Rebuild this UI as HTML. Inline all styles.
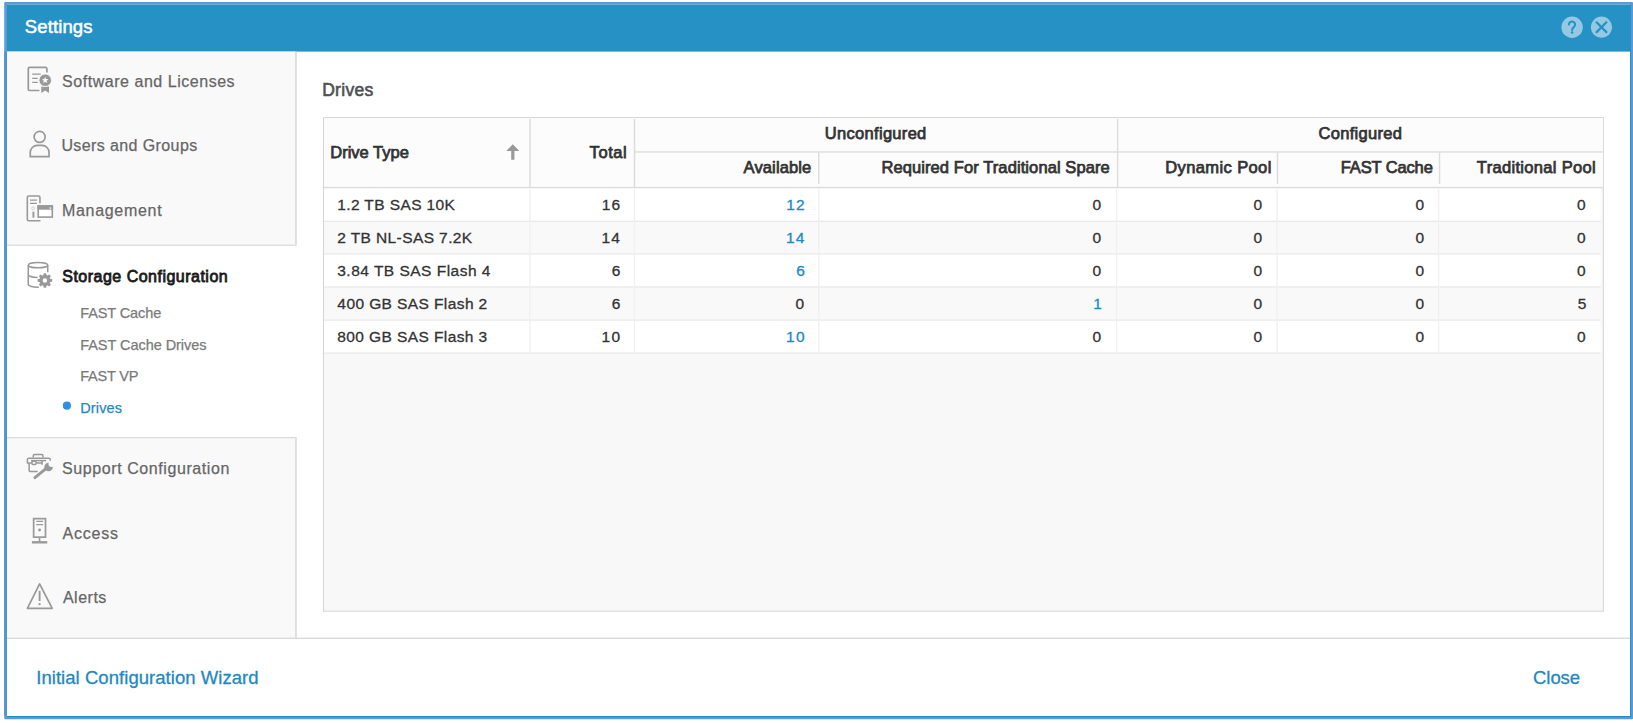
<!DOCTYPE html>
<html lang="en">
<head>
<meta charset="utf-8">
<title>Settings</title>
<style>
html,body{margin:0;padding:0;background:#fff;}
body{width:1633px;height:723px;position:relative;overflow:hidden;font-family:"Liberation Sans",sans-serif;color:#333;}
.t{position:absolute;white-space:nowrap;line-height:20px;}
.ic{position:absolute;left:0;top:0;}
</style>
</head>
<body>
<svg class="ic" width="1633" height="723" viewBox="0 0 1633 723" fill="none" stroke="#999" stroke-width="1.6">
<g stroke="none">
<!-- window frame -->
<rect x="4.2" y="2" width="1629" height="717.2" rx="1.2" fill="#5b9bd5"/>
<rect x="4.2" y="51.6" width="2.8" height="664" fill="#5294d3"/>
<rect x="7" y="4.6" width="1623.2" height="711.4" fill="#fff"/>
<rect x="1630" y="4.6" width="1.1" height="712.5" fill="#2f8fc9"/>
<rect x="7" y="716" width="1624" height="1.1" fill="#268bc5"/>
<!-- title bar -->
<rect x="7" y="4.6" width="1623.2" height="47" fill="#2591c5"/>
<!-- sidebar -->
<rect x="7" y="51.6" width="288.2" height="586.2" fill="#f9f9f9"/>
<rect x="295.1" y="51.6" width="1.7" height="586.2" fill="#dbdbdb"/>
<rect x="7" y="244.5" width="290" height="193.8" fill="#fff"/>
<rect x="7" y="244.5" width="289.8" height="1.3" fill="#dbdbdb"/>
<rect x="7" y="437" width="289.8" height="1.3" fill="#dbdbdb"/>
<!-- footer line -->
<rect x="7" y="637.7" width="1623.2" height="1.1" fill="#d2d2d2"/>
<!-- grid -->
<rect x="323" y="117.1" width="1280.8" height="494.6" fill="#d4d4d4"/>
<rect x="324" y="118.1" width="1278.8" height="492.6" fill="#f8f8f8"/>
<rect x="324" y="118.1" width="1278.8" height="69" fill="#fcfcfc"/>
<!-- rows -->
<rect x="324" y="188.2" width="1276.6" height="32.6" fill="#fff"/>
<rect x="324" y="221.8" width="1276.6" height="31.7" fill="#f9f9f9"/>
<rect x="324" y="254.5" width="1276.6" height="32" fill="#fff"/>
<rect x="324" y="287.5" width="1276.6" height="32.1" fill="#f9f9f9"/>
<rect x="324" y="320.6" width="1276.6" height="32" fill="#fff"/>
<g fill="#e5e5e5">
<rect x="324" y="220.8" width="1276.6" height="1"/>
<rect x="324" y="253.5" width="1276.6" height="1"/>
<rect x="324" y="286.5" width="1276.6" height="1"/>
<rect x="324" y="319.6" width="1276.6" height="1"/>
<rect x="324" y="352.6" width="1276.6" height="1"/>
</g>
<g fill="#f0f0f0">
<rect x="529.2" y="189" width="1.4" height="164"/>
<rect x="633.7" y="189" width="1.4" height="164"/>
<rect x="818" y="189" width="1.4" height="164"/>
<rect x="1115.9" y="189" width="1.4" height="164"/>
<rect x="1276.4" y="189" width="1.4" height="164"/>
<rect x="1437.9" y="189" width="1.4" height="164"/>
</g>
<!-- header lines -->
<rect x="324" y="186.9" width="1278.8" height="1.3" fill="#dadada"/>
<rect x="634.4" y="151" width="968.4" height="1.9" fill="#e5e5e5"/>
<g fill="#dcdcdc">
<rect x="529.25" y="119" width="1.5" height="68"/>
<rect x="633.75" y="119" width="1.5" height="68"/>
<rect x="1116.9" y="119" width="1.4" height="68"/>
<rect x="818.05" y="152.6" width="1.4" height="31.4"/>
<rect x="1276.8" y="152.6" width="1.4" height="31.4"/>
<rect x="1438.85" y="152.6" width="1.4" height="31.4"/>
</g>
<!-- selected bullet -->
<circle cx="66.9" cy="405.7" r="4.1" fill="#2e8fe4"/>
</g>

<!-- software and licenses -->
<path d="M46.9,72.6 V68.7 a1.3,1.3 0 0 0 -1.3,-1.3 H29.6 a1.3,1.3 0 0 0 -1.3,1.3 V89.2 a1.3,1.3 0 0 0 1.3,1.3 H39.4" stroke-width="1.7"/>
<path d="M32.2,74.1 H40.7 M32.2,78.3 H37.7 M32.2,82.4 H37.7" stroke-width="1.3"/>
<path d="M41.3,86.5 H49 V92.9 L45.15,90.4 L41.3,92.9Z" fill="#999" stroke="none"/>
<circle cx="45.2" cy="80.2" r="6.3" fill="#999" stroke="#f9f9f9" stroke-width="1"/>
<path d="M45.20,77.00 L46.08,79.09 L48.34,79.28 L46.63,80.76 L47.14,82.97 L45.20,81.80 L43.26,82.97 L43.77,80.76 L42.06,79.28 L44.32,79.09Z" fill="#fff" stroke="none"/>
<!-- users and groups -->
<circle cx="39.64" cy="136.9" r="5.5" stroke-width="1.7"/>
<path d="M30.25,156.55 V152.45 a7,7 0 0 1 7,-7 H42.05 a7,7 0 0 1 7,7 V156.55Z" stroke-width="1.7"/>
<!-- management -->
<path d="M39.95,203.3 V197.55 a1.5,1.5 0 0 0 -1.5,-1.5 H28.8 a1.5,1.5 0 0 0 -1.5,1.5 V219.2 a1.5,1.5 0 0 0 1.5,1.5 H40.5"/>
<path d="M30,200.1 H36.9 M30,203.3 H36.9" stroke-width="1.3"/>
<circle cx="33.1" cy="208.4" r="1.4" stroke="#d0d0d0" stroke-width="1"/>
<path d="M33.4,211.6 V217.7" stroke-width="1.9"/>
<rect x="36.7" y="204.5" width="17.1" height="14.1" fill="#f9f9f9" stroke="none"/>
<rect x="38.2" y="206" width="14.1" height="11.1" fill="#fff"/>
<rect x="37.4" y="205.2" width="15.7" height="4.5" fill="#999" stroke="none"/>
<rect x="49.5" y="207.3" width="1.6" height="1.6" fill="#eee" stroke="none"/>
<!-- storage configuration -->
<g stroke-width="1.5">
<ellipse cx="38" cy="265.2" rx="9.75" ry="2.6"/>
<path d="M28.25,265.2 V284.2 A9.75,3 0 0 0 38.8,287.2"/>
<path d="M28.25,274.4 A9.75,3 0 0 0 37.6,277.4"/>
<path d="M47.75,265.2 V272.2"/>
</g>
<path d="M43.27,275.20 L43.72,273.14 L46.08,273.14 L46.53,275.20 L47.47,275.59 L49.23,274.45 L50.90,276.12 L49.76,277.88 L50.15,278.82 L52.21,279.27 L52.21,281.63 L50.15,282.08 L49.76,283.02 L50.90,284.78 L49.23,286.45 L47.47,285.31 L46.53,285.70 L46.08,287.76 L43.72,287.76 L43.27,285.70 L42.33,285.31 L40.57,286.45 L38.90,284.78 L40.04,283.02 L39.65,282.08 L37.59,281.63 L37.59,279.27 L39.65,278.82 L40.04,277.88 L38.90,276.12 L40.57,274.45 L42.33,275.59Z M42.70,280.45 a2.2,2.2 0 1,0 4.4,0 a2.2,2.2 0 1,0 -4.4,0Z" fill="#999" stroke="none" fill-rule="evenodd"/>
<!-- support configuration -->
<g stroke-width="1.5">
<path d="M33.2,457.6 V455.9 a1.5,1.5 0 0 1 1.5,-1.5 H41.5 a1.5,1.5 0 0 1 1.5,1.5 V457.6"/>
<path d="M50.2,460.8 V459.5 a1.2,1.2 0 0 0 -1.2,-1.2 H28.6 a1.2,1.2 0 0 0 -1.2,1.2 V463.4"/>
<path d="M27.4,463 H31.6 M36.3,463 H42.6 M42.1,460.8 V464.8"/>
<path d="M31,460.6 H46"/>
<rect x="31.9" y="461.2" width="4.2" height="3.4" rx="1"/>
<path d="M29.1,463 V470.3 a1.2,1.2 0 0 0 1.2,1.2 H37.7"/>
</g>
<path d="M34.9,477.7 L47.2,467.6" stroke="#f9f9f9" stroke-width="4.6" stroke-linecap="round"/>
<circle cx="48.6" cy="467" r="5.1" fill="#f9f9f9" stroke="none"/>
<path d="M34.9,477.7 L46.6,468.1" stroke-width="2.9" stroke-linecap="round"/>
<circle cx="48.6" cy="467" r="4.3" fill="#999" stroke="none"/>
<circle cx="51.5" cy="464" r="3" fill="#f9f9f9" stroke="none"/>
<!-- access -->
<g stroke-width="1.7">
<rect x="33.65" y="518.65" width="11.85" height="18.5"/>
<path d="M36.25,521.3 H43.1 M36.25,524.7 H43.1" stroke-width="1.3"/>
<circle cx="39.55" cy="530" r="1.4" fill="#999" stroke="none"/>
<path d="M39.55,537.9 V541.5" stroke-width="1.6"/>
<path d="M31.9,542.3 H47.25" stroke-width="2.4"/>
</g>
<!-- alerts -->
<path d="M39.6,583.8 L52.2,608.3 H27.4 Z" stroke-linejoin="round" stroke-width="1.7"/>
<path d="M39.6,590.8 V601" stroke-width="1.9"/>
<circle cx="39.6" cy="604.2" r="1.15" fill="#999" stroke="none"/>
<!-- sort arrow -->
<path d="M512.8,144.2 L519.3,150.9 H514.4 V159.7 H511.2 V150.9 H506.3 Z" fill="#999" stroke="none"/>
<!-- title buttons -->
<circle cx="1572.1" cy="27.2" r="10.7" fill="#93c9e3" stroke="none"/>
<circle cx="1601.5" cy="27.2" r="10.6" fill="#93c9e3" stroke="none"/>
<path d="M1568.9,24.6 a3.1,3.1 0 1 1 4.9,2.5 c-1,0.8 -1.7,1.4 -1.7,3.0" stroke="#2591c5" stroke-width="2" stroke-linecap="round"/>
<circle cx="1572.1" cy="32.6" r="1.25" fill="#2591c5" stroke="none"/>
<path d="M1596.6,22.3 L1606.4,32.1 M1606.4,22.3 L1596.6,32.1" stroke="#2591c5" stroke-width="2.2" stroke-linecap="round"/>

</svg>
<div class="t" id="title" style="left:24.86px;top:17.14px;font-size:18.5px;color:#fff;letter-spacing:0.108px;-webkit-text-stroke:0.5px #fff;">Settings</div>
<div class="t" id="n1" style="left:62.12px;top:72.11px;font-size:16px;color:#666;letter-spacing:0.531px;-webkit-text-stroke:0.25px #666;">Software and Licenses</div>
<div class="t" id="n2" style="left:61.43px;top:135.71px;font-size:16px;color:#666;letter-spacing:0.394px;-webkit-text-stroke:0.25px #666;">Users and Groups</div>
<div class="t" id="n3" style="left:61.90px;top:200.81px;font-size:16px;color:#666;letter-spacing:0.707px;-webkit-text-stroke:0.25px #666;">Management</div>
<div class="t" id="n4" style="left:62.29px;top:266.71px;font-size:16px;color:#1a1a1a;letter-spacing:0.487px;-webkit-text-stroke:0.8px #1a1a1a;">Storage Configuration</div>
<div class="t" id="s1" style="left:80.19px;top:303.11px;font-size:14.5px;color:#7a7a7a;letter-spacing:-0.096px;-webkit-text-stroke:0.25px #7a7a7a;">FAST Cache</div>
<div class="t" id="s2" style="left:80.19px;top:334.61px;font-size:14.5px;color:#7a7a7a;letter-spacing:-0.045px;-webkit-text-stroke:0.25px #7a7a7a;">FAST Cache Drives</div>
<div class="t" id="s3" style="left:80.19px;top:366.11px;font-size:14.5px;color:#7a7a7a;letter-spacing:-0.187px;-webkit-text-stroke:0.25px #7a7a7a;">FAST VP</div>
<div class="t" id="s4" style="left:80.19px;top:397.96px;font-size:14.5px;color:#1f88c1;letter-spacing:0.157px;-webkit-text-stroke:0.25px #1f88c1;">Drives</div>
<div class="t" id="n5" style="left:62.12px;top:459.01px;font-size:16px;color:#666;letter-spacing:0.577px;-webkit-text-stroke:0.25px #666;">Support Configuration</div>
<div class="t" id="n6" style="left:62.40px;top:523.71px;font-size:16px;color:#666;letter-spacing:0.830px;-webkit-text-stroke:0.25px #666;">Access</div>
<div class="t" id="n7" style="left:62.90px;top:587.71px;font-size:16px;color:#666;letter-spacing:0.516px;-webkit-text-stroke:0.25px #666;">Alerts</div>
<div class="t" id="f1" style="left:36.26px;top:668.14px;font-size:18.5px;color:#1f88c1;letter-spacing:0.048px;-webkit-text-stroke:0.3px #1f88c1;">Initial Configuration Wizard</div>
<div class="t" id="f2" style="left:1533.11px;top:668.14px;font-size:18.5px;color:#1f88c1;letter-spacing:-0.100px;-webkit-text-stroke:0.3px #1f88c1;">Close</div>
<div class="t" id="h0" style="left:322.17px;top:79.97px;font-size:17.5px;color:#505050;letter-spacing:0.306px;-webkit-text-stroke:0.6px #505050;">Drives</div>
<div class="t" id="hA" style="left:330.31px;top:142.25px;font-size:16.5px;color:#333;-webkit-text-stroke:0.75px #333;">Drive Type</div>
<div class="t" id="hB" style="left:589.57px;top:142.25px;font-size:16.5px;color:#333;letter-spacing:0.583px;-webkit-text-stroke:0.75px #333;">Total</div>
<div class="t" id="hC" style="left:824.85px;top:123.45px;font-size:16.5px;color:#333;letter-spacing:0.301px;-webkit-text-stroke:0.75px #333;">Unconfigured</div>
<div class="t" id="hD" style="left:1318.51px;top:123.45px;font-size:16.5px;color:#333;letter-spacing:0.308px;-webkit-text-stroke:0.75px #333;">Configured</div>
<div class="t" id="hE" style="left:743.61px;top:156.75px;font-size:16.5px;color:#333;letter-spacing:0.127px;-webkit-text-stroke:0.75px #333;">Available</div>
<div class="t" id="hF" style="left:881.41px;top:156.75px;font-size:16.5px;color:#333;letter-spacing:0.095px;-webkit-text-stroke:0.75px #333;">Required For Traditional Spare</div>
<div class="t" id="hG" style="left:1165.26px;top:156.75px;font-size:16.5px;color:#333;letter-spacing:0.389px;-webkit-text-stroke:0.75px #333;">Dynamic Pool</div>
<div class="t" id="hH" style="left:1340.76px;top:156.75px;font-size:16.5px;color:#333;letter-spacing:-0.130px;-webkit-text-stroke:0.75px #333;">FAST Cache</div>
<div class="t" id="hI" style="left:1476.87px;top:156.75px;font-size:16.5px;color:#333;letter-spacing:0.319px;-webkit-text-stroke:0.75px #333;">Traditional Pool</div>
<div class="t" id="r0n" style="left:337.20px;top:195.18px;font-size:15.5px;color:#333;letter-spacing:0.399px;-webkit-text-stroke:0.3px #333;">1.2 TB SAS 10K</div>
<div class="t" id="r0c0" style="left:601.63px;top:195.18px;font-size:15.5px;color:#333;letter-spacing:1.185px;-webkit-text-stroke:0.3px #333;">16</div>
<div class="t" id="r0c1" style="left:786.13px;top:195.18px;font-size:15.5px;color:#1f88c1;letter-spacing:1.185px;-webkit-text-stroke:0.3px #1f88c1;">12</div>
<div class="t" id="r0c2" style="left:1092.55px;top:195.18px;font-size:15.5px;color:#333;-webkit-text-stroke:0.3px #333;">0</div>
<div class="t" id="r0c3" style="left:1253.55px;top:195.18px;font-size:15.5px;color:#333;-webkit-text-stroke:0.3px #333;">0</div>
<div class="t" id="r0c4" style="left:1415.55px;top:195.18px;font-size:15.5px;color:#333;-webkit-text-stroke:0.3px #333;">0</div>
<div class="t" id="r0c5" style="left:1577.05px;top:195.18px;font-size:15.5px;color:#333;-webkit-text-stroke:0.3px #333;">0</div>
<div class="t" id="r1n" style="left:337.24px;top:228.18px;font-size:15.5px;color:#333;letter-spacing:0.402px;-webkit-text-stroke:0.3px #333;">2 TB NL-SAS 7.2K</div>
<div class="t" id="r1c0" style="left:601.57px;top:228.18px;font-size:15.5px;color:#333;letter-spacing:1.127px;-webkit-text-stroke:0.3px #333;">14</div>
<div class="t" id="r1c1" style="left:786.07px;top:228.18px;font-size:15.5px;color:#1f88c1;letter-spacing:1.127px;-webkit-text-stroke:0.3px #1f88c1;">14</div>
<div class="t" id="r1c2" style="left:1092.55px;top:228.18px;font-size:15.5px;color:#333;-webkit-text-stroke:0.3px #333;">0</div>
<div class="t" id="r1c3" style="left:1253.55px;top:228.18px;font-size:15.5px;color:#333;-webkit-text-stroke:0.3px #333;">0</div>
<div class="t" id="r1c4" style="left:1415.55px;top:228.18px;font-size:15.5px;color:#333;-webkit-text-stroke:0.3px #333;">0</div>
<div class="t" id="r1c5" style="left:1577.05px;top:228.18px;font-size:15.5px;color:#333;-webkit-text-stroke:0.3px #333;">0</div>
<div class="t" id="r2n" style="left:337.25px;top:261.28px;font-size:15.5px;color:#333;letter-spacing:0.488px;-webkit-text-stroke:0.3px #333;">3.84 TB SAS Flash 4</div>
<div class="t" id="r2c0" style="left:611.65px;top:261.28px;font-size:15.5px;color:#333;-webkit-text-stroke:0.3px #333;">6</div>
<div class="t" id="r2c1" style="left:796.15px;top:261.28px;font-size:15.5px;color:#1f88c1;-webkit-text-stroke:0.3px #1f88c1;">6</div>
<div class="t" id="r2c2" style="left:1092.55px;top:261.28px;font-size:15.5px;color:#333;-webkit-text-stroke:0.3px #333;">0</div>
<div class="t" id="r2c3" style="left:1253.55px;top:261.28px;font-size:15.5px;color:#333;-webkit-text-stroke:0.3px #333;">0</div>
<div class="t" id="r2c4" style="left:1415.55px;top:261.28px;font-size:15.5px;color:#333;-webkit-text-stroke:0.3px #333;">0</div>
<div class="t" id="r2c5" style="left:1577.05px;top:261.28px;font-size:15.5px;color:#333;-webkit-text-stroke:0.3px #333;">0</div>
<div class="t" id="r3n" style="left:337.37px;top:294.28px;font-size:15.5px;color:#333;letter-spacing:0.403px;-webkit-text-stroke:0.3px #333;">400 GB SAS Flash 2</div>
<div class="t" id="r3c0" style="left:611.65px;top:294.28px;font-size:15.5px;color:#333;-webkit-text-stroke:0.3px #333;">6</div>
<div class="t" id="r3c1" style="left:795.55px;top:294.28px;font-size:15.5px;color:#333;-webkit-text-stroke:0.3px #333;">0</div>
<div class="t" id="r3c2" style="left:1093.14px;top:294.28px;font-size:15.5px;color:#1f88c1;-webkit-text-stroke:0.3px #1f88c1;">1</div>
<div class="t" id="r3c3" style="left:1253.55px;top:294.28px;font-size:15.5px;color:#333;-webkit-text-stroke:0.3px #333;">0</div>
<div class="t" id="r3c4" style="left:1415.55px;top:294.28px;font-size:15.5px;color:#333;-webkit-text-stroke:0.3px #333;">0</div>
<div class="t" id="r3c5" style="left:1577.64px;top:294.28px;font-size:15.5px;color:#333;-webkit-text-stroke:0.3px #333;">5</div>
<div class="t" id="r4n" style="left:337.25px;top:327.28px;font-size:15.5px;color:#333;letter-spacing:0.410px;-webkit-text-stroke:0.3px #333;">800 GB SAS Flash 3</div>
<div class="t" id="r4c0" style="left:601.62px;top:327.28px;font-size:15.5px;color:#333;letter-spacing:1.174px;-webkit-text-stroke:0.3px #333;">10</div>
<div class="t" id="r4c1" style="left:786.12px;top:327.28px;font-size:15.5px;color:#1f88c1;letter-spacing:1.174px;-webkit-text-stroke:0.3px #1f88c1;">10</div>
<div class="t" id="r4c2" style="left:1092.55px;top:327.28px;font-size:15.5px;color:#333;-webkit-text-stroke:0.3px #333;">0</div>
<div class="t" id="r4c3" style="left:1253.55px;top:327.28px;font-size:15.5px;color:#333;-webkit-text-stroke:0.3px #333;">0</div>
<div class="t" id="r4c4" style="left:1415.55px;top:327.28px;font-size:15.5px;color:#333;-webkit-text-stroke:0.3px #333;">0</div>
<div class="t" id="r4c5" style="left:1577.05px;top:327.28px;font-size:15.5px;color:#333;-webkit-text-stroke:0.3px #333;">0</div>
</body>
</html>
